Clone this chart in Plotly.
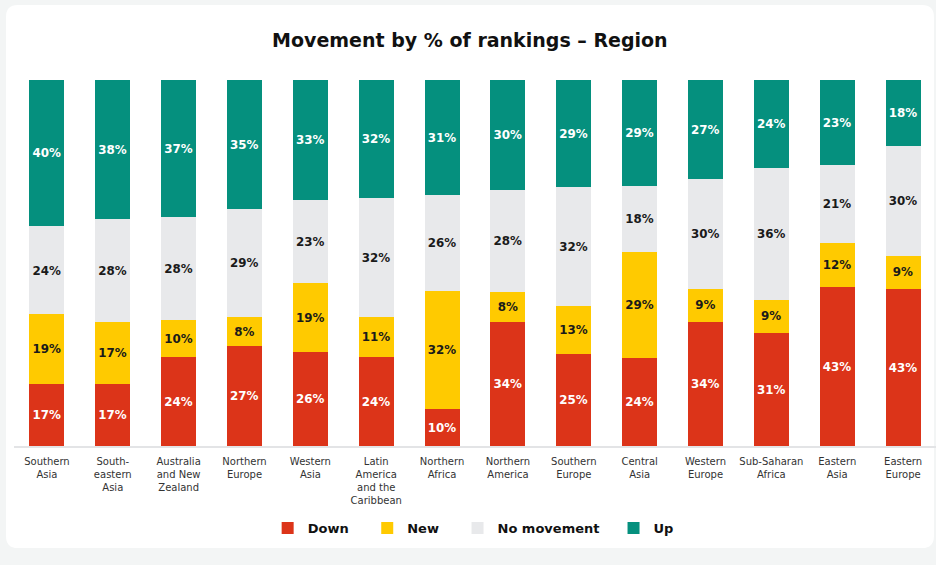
import plotly.graph_objects as go

categories = ["Southern Asia", "South-eastern Asia", "Australia and New Zealand",
              "Northern Europe", "Western Asia", "Latin America and the Caribbean",
              "Northern Africa", "Northern America", "Southern Europe", "Central Asia",
              "Western Europe", "Sub-Saharan Africa", "Eastern Asia", "Eastern Europe"]
tick_labels = ["Southern<br>Asia", "South-<br>eastern<br>Asia", "Australia<br>and New<br>Zealand",
               "Northern<br>Europe", "Western<br>Asia", "Latin<br>America<br>and the<br>Caribbean",
               "Northern<br>Africa", "Northern<br>America", "Southern<br>Europe", "Central<br>Asia",
               "Western<br>Europe", "Sub-Saharan<br>Africa", "Eastern<br>Asia", "Eastern<br>Europe"]

down = [17, 17, 24, 27, 26, 24, 10, 34, 25, 24, 34, 31, 43, 43]
new = [19, 17, 10, 8, 19, 11, 32, 8, 13, 29, 9, 9, 12, 9]
no_movement = [24, 28, 28, 29, 23, 32, 26, 28, 32, 18, 30, 36, 21, 30]
up = [40, 38, 37, 35, 33, 32, 31, 30, 29, 29, 27, 24, 23, 18]

NB = "\u00a0"
series = [
    ("Down", down, "#DC3419", "white", NB * 3),
    ("New", new, "#FFCA00", "#1a1a1a", NB * 3),
    ("No movement", no_movement, "#E8E9EB", "#1a1a1a", NB * 2),
    ("Up", up, "#05907E", "white", ""),
]

FONT = "DejaVu Sans"

fig = go.Figure()
for name, vals, color, tcolor, pad in series:
    fig.add_trace(go.Bar(
        x=categories, y=vals, name=name + pad,
        marker=dict(color=color, line=dict(width=0)),
        text=[f"{v}%" for v in vals], texttemplate="%{text}",
        textposition="inside", insidetextanchor="middle", textangle=0,
        textfont=dict(family=FONT, size=12.5, color=tcolor, weight=700),
        hoverinfo="skip",
    ))

fig.update_layout(
    width=936, height=565,
    barmode="stack", barnorm="percent", bargap=0.47,
    paper_bgcolor="#F3F5F5", plot_bgcolor="rgba(0,0,0,0)",
    margin=dict(l=14, r=0, t=80, b=119),
    font=dict(family=FONT, color="#333333"),
    title=dict(text="Movement by % of rankings – Region", x=0.502, xref="container",
               xanchor="center", y=0.928, yanchor="middle",
               font=dict(family=FONT, size=19, color="#111111", weight=700)),
    uniformtext=dict(minsize=11, mode="show"),
    showlegend=True,
    legend=dict(orientation="h", x=0.498, xanchor="center", y=-0.224, yanchor="middle",
                bgcolor="rgba(0,0,0,0)",
                font=dict(family=FONT, size=13, color="#111111", weight=700),
                traceorder="normal", itemclick=False, itemdoubleclick=False),
    shapes=[dict(type="path", xref="paper", yref="paper", layer="below",
                 path="M -0.0087,1.172 Q -0.0087,1.205 0.004,1.205 L 0.985,1.205 Q 0.9978,1.205 0.9978,1.172 "
                      "L 0.9978,-0.246 Q 0.9978,-0.279 0.985,-0.279 L 0.004,-0.279 Q -0.0087,-0.279 -0.0087,-0.246 Z",
                 fillcolor="white", line=dict(width=0))],
)
fig.update_xaxes(tickmode="array", tickvals=categories, ticktext=tick_labels,
                 showline=True, linecolor="#E3E4E6", linewidth=2, ticks="",
                 ticklabelstandoff=5,
                 tickfont=dict(family=FONT, size=10, color="#333333"),
                 showgrid=False, fixedrange=True)
fig.update_yaxes(range=[0, 100], visible=False, showgrid=False, fixedrange=True)

fig.write_html("out.html", config={"displayModeBar": False},
               post_script="document.body.style.margin='0';document.body.style.overflow='hidden';")
